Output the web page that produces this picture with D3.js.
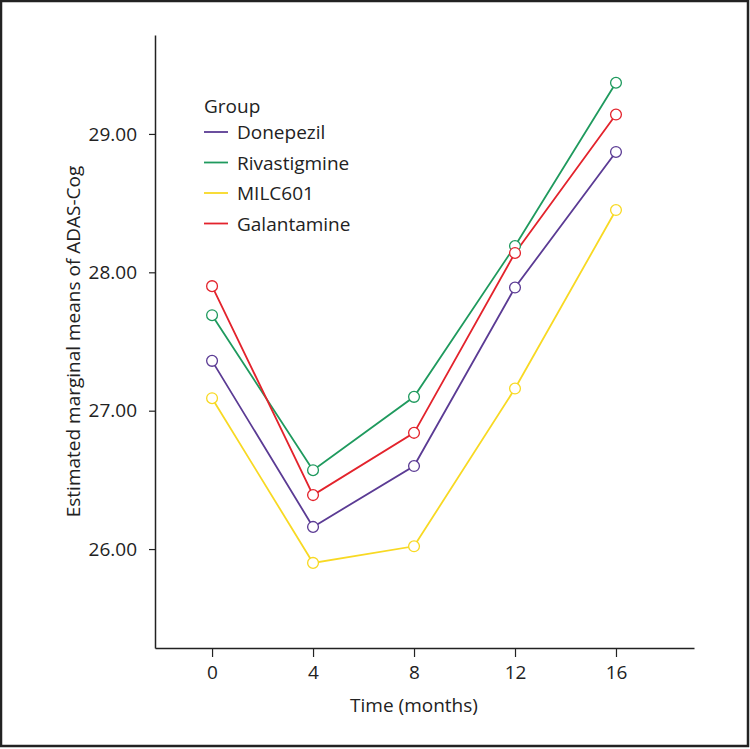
<!DOCTYPE html>
<html><head><meta charset="utf-8">
<script src="https://cdn.jsdelivr.net/npm/d3@7"></script>
<style>body{margin:0;background:#fff}svg{display:block}text{font-family:"Open Sans",sans-serif;fill:#222}</style>
</head><body>
<script>
const months = [0, 4, 8, 12, 16];
const groups = ["Donepezil", "Rivastigmine", "MILC601", "Galantamine"];
const donepezil = [27.36, 26.16, 26.60, 27.89, 28.87];
const rivastigmine = [27.69, 26.57, 27.10, 28.19, 29.37];
const milc601 = [27.09, 25.90, 26.02, 27.16, 28.45];
const galantamine = [27.90, 26.39, 26.84, 28.14, 29.14];
const yTicks = [26, 27, 28, 29];
const colors = ["#5b3b94", "#1f9a5e", "#f8d923", "#e3232c"];
const seriesValues = [donepezil, rivastigmine, milc601, galantamine];

const W = 750, H = 749;
const FS = 19;
const svg = d3.select("body").append("svg").attr("width", W).attr("height", H);
svg.append("rect").attr("x", 1).attr("y", 1).attr("width", W - 3).attr("height", H - 4)
  .attr("fill", "#fff").attr("stroke", "#222").attr("stroke-width", 2.5);

const mLeft = 155, mRight = 694, mTop = 35, mBottom = 648;
const x = d3.scaleLinear().domain([-2.26, 19.09]).range([mLeft, mRight]);
const y = d3.scaleLinear().domain([25.285, 29.715]).range([mBottom, mTop]);

const xAxis = svg.append("g").attr("transform", `translate(0,${mBottom})`)
  .call(d3.axisBottom(x).tickValues(months).tickSize(9).tickPadding(9).tickSizeOuter(0));
const yAxis = svg.append("g").attr("transform", `translate(${mLeft},0)`)
  .call(d3.axisLeft(y).tickValues(yTicks).tickFormat(d3.format(".2f")).tickSize(6).tickPadding(12).tickSizeOuter(0));
[xAxis, yAxis].forEach(a => {
  a.select(".domain").attr("stroke", "#222").attr("stroke-width", 1.5);
  a.selectAll(".tick line").attr("stroke", "#222").attr("stroke-width", 1.2);
  a.selectAll(".tick text").attr("font-size", FS).attr("fill", "#222").attr("font-family", "Open Sans, sans-serif");
});

svg.append("text").attr("x", 414).attr("y", 712).attr("text-anchor", "middle")
  .attr("font-size", FS).text("Time (months)");
svg.append("text").attr("transform", `translate(80,${(mTop + mBottom) / 2}) rotate(-90)`)
  .attr("text-anchor", "middle").attr("font-size", FS).text("Estimated marginal means of ADAS-Cog");

const line = d3.line().x((d, i) => x(months[i])).y(d => y(d));
seriesValues.forEach((vals, k) => {
  svg.append("path").datum(vals).attr("d", line).attr("fill", "none")
    .attr("stroke", colors[k]).attr("stroke-width", 1.8);
});
seriesValues.forEach((vals, k) => {
  svg.selectAll(null).data(vals).enter().append("circle")
    .attr("cx", (d, i) => x(months[i])).attr("cy", d => y(d)).attr("r", 5.4)
    .attr("fill", "#fff").attr("stroke", colors[k]).attr("stroke-width", 1.3);
});

const lg = svg.append("g");
lg.append("text").attr("x", 204).attr("y", 113).attr("font-size", FS).text("Group");
groups.forEach((g, k) => {
  const yy = 132 + k * 30.5;
  lg.append("line").attr("x1", 204).attr("x2", 228).attr("y1", yy).attr("y2", yy)
    .attr("stroke", colors[k]).attr("stroke-width", 1.8);
  lg.append("text").attr("x", 237).attr("y", yy + 7).attr("font-size", FS).text(g);
});
</script>
</body></html>
